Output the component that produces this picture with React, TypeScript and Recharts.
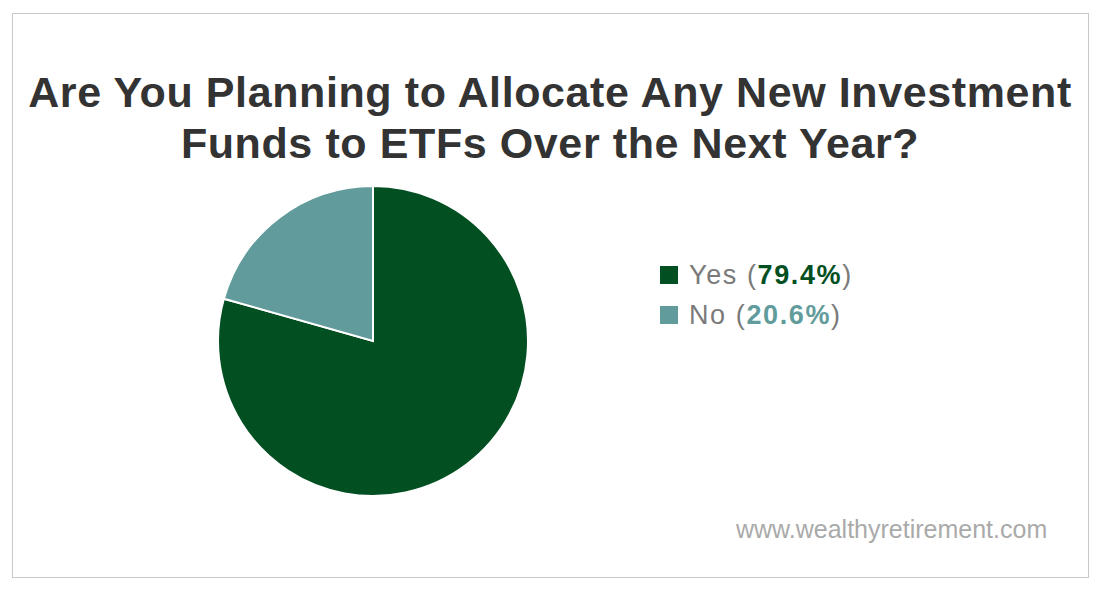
import { PieChart, Pie, Cell, Legend } from 'recharts'

const answers = ['Yes', 'No']
const shares = [79.4, 20.6]
const sliceColors = ['#024f22', '#629b9b']

const data = answers.map((name, i) => ({ name, value: shares[i] }))

const FONT = '"Liberation Sans", Arial, Helvetica, sans-serif'

const renderLegend = () => (
  <div style={{ fontFamily: FONT }}>
    {data.map((d, i) => (
      <div
        key={d.name}
        style={{
          display: 'flex',
          alignItems: 'center',
          height: 40,
          fontSize: 27,
          letterSpacing: 1.6,
          color: '#7a7a7a',
        }}
      >
        <span
          style={{
            display: 'inline-block',
            width: 18,
            height: 18,
            background: sliceColors[i],
            marginRight: 11,
          }}
        />
        <span>
          {d.name} (
          <span style={{ fontWeight: 'bold', color: sliceColors[i] }}>
            {d.value.toFixed(1)}%
          </span>
          )
        </span>
      </div>
    ))}
  </div>
)

export default function App() {
  return (
    <div
      style={{
        position: 'absolute',
        left: 0,
        top: 0,
        width: 1100,
        height: 594,
        background: '#fff',
        fontFamily: FONT,
      }}
    >
      <div
        style={{
          position: 'absolute',
          left: 12,
          top: 13,
          width: 1075,
          height: 563,
          border: '1.5px solid #c8c8c8',
        }}
      />
      <div
        style={{
          position: 'absolute',
          left: 0,
          top: 67,
          width: 1100,
          textAlign: 'center',
          fontSize: 43,
          lineHeight: '51px',
          letterSpacing: 0.6,
          fontWeight: 'bold',
          color: '#333333',
        }}
      >
        Are You Planning to Allocate Any New Investment
        <br />
        Funds to ETFs Over the Next Year?
      </div>
      <div style={{ position: 'absolute', left: 0, top: 0 }}>
        <PieChart width={1100} height={594} margin={{ top: 0, right: 0, bottom: 0, left: 0 }}>
          <Pie
            data={data}
            dataKey="value"
            nameKey="name"
            cx={373}
            cy={341}
            outerRadius={155}
            startAngle={90}
            endAngle={-270}
            stroke="#ffffff"
            strokeWidth={2}
            isAnimationActive={false}
          >
            {data.map((d, i) => (
              <Cell key={d.name} fill={sliceColors[i]} />
            ))}
          </Pie>
          <Legend
            content={renderLegend}
            wrapperStyle={{ left: 660, top: 255, width: 'auto', bottom: 'auto' }}
          />
        </PieChart>
      </div>
      <div
        style={{
          position: 'absolute',
          left: 736,
          top: 515,
          fontSize: 25,
          color: '#aaaaaa',
        }}
      >
        www.wealthyretirement.com
      </div>
    </div>
  )
}
